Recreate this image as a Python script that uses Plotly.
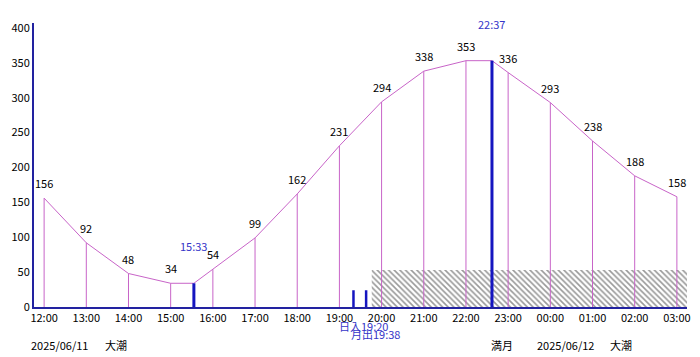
import plotly.graph_objects as go

# ---- data ----
hour_labels = ["12:00", "13:00", "14:00", "15:00", "16:00", "17:00", "18:00", "19:00",
               "20:00", "21:00", "22:00", "23:00", "00:00", "01:00", "02:00", "03:00"]
hour_pos = list(range(16))  # hours after 2025/06/11 12:00
tide_values = [156, 92, 48, 34, 54, 99, 162, 231, 294, 338, 353, 336, 293, 238, 188, 158]

low_time_label = "15:33"
low_time = 15 + 33 / 60 - 12
low_value = 34
high_time_label = "22:37"
high_time = 22 + 37 / 60 - 12
high_value = 353

sunset_label = "日入19:20"
sunset_time = 19 + 20 / 60 - 12
moonrise_label = "月出19:38"
moonrise_time = 19 + 38 / 60 - 12
event_bar_height = 24

night_start = 19 + 46 / 60 - 12
night_end = 15.24
night_height = 53

y_ticks = [0, 50, 100, 150, 200, 250, 300, 350, 400]

# ---- style ----
MAG = "#c864c8"
BLUE = "#1515c0"
AXBLUE = "#2222a0"
TXTBLUE = "#3535c8"
FONT = "Noto Sans CJK JP"
FS = 11

# curve including low/high points
pts = sorted(list(zip(hour_pos, tide_values)) + [(low_time, low_value), (high_time, high_value)])
cx = [p[0] for p in pts]
cy = [p[1] for p in pts]

fig = go.Figure()

# night hatch
fig.add_trace(go.Scatter(
    x=[night_start, night_end, night_end, night_start, night_start],
    y=[0, 0, night_height, night_height, 0],
    mode="lines", line=dict(width=0), fill="toself", fillcolor="rgba(0,0,0,0)",
    fillpattern=dict(shape="\\", fgcolor="#333333", bgcolor="white", size=4, solidity=0.4),
    hoverinfo="skip", showlegend=False))

# vertical hourly lines
vx, vy = [], []
for x, v in zip(hour_pos, tide_values):
    vx += [x, x, None]
    vy += [0, v, None]
fig.add_trace(go.Scatter(x=vx, y=vy, mode="lines", line=dict(color=MAG, width=1),
                         hoverinfo="skip", showlegend=False))

# curve
fig.add_trace(go.Scatter(x=cx, y=cy, mode="lines", line=dict(color=MAG, width=1),
                         showlegend=False))

# low/high thick bars
for t, v in [(low_time, low_value), (high_time, high_value)]:
    fig.add_trace(go.Scatter(x=[t, t], y=[0, v], mode="lines", line=dict(color=BLUE, width=3),
                             showlegend=False, hoverinfo="skip"))
# sunset / moonrise bars
for t in [sunset_time, moonrise_time]:
    fig.add_trace(go.Scatter(x=[t, t], y=[0, event_bar_height], mode="lines",
                             line=dict(color=BLUE, width=2.5), showlegend=False, hoverinfo="skip"))

ann = []
# value labels
for x, v in zip(hour_pos, tide_values):
    ann.append(dict(x=x, y=v, xref="x", yref="y", text=str(v), showarrow=False,
                    yshift=15, font=dict(family=FONT, size=FS, color="black")))
for t, v, lab in [(low_time, low_value, low_time_label), (high_time, high_value, high_time_label)]:
    ann.append(dict(x=t, y=v, xref="x", yref="y", text=lab, showarrow=False,
                    yshift=37, font=dict(family=FONT, size=FS, color=TXTBLUE)))
ann.append(dict(x=sunset_time, y=0, xref="x", yref="y", text=sunset_label, showarrow=False,
                xshift=10, yshift=-19, font=dict(family=FONT, size=FS, color=TXTBLUE)))
ann.append(dict(x=moonrise_time, y=0, xref="x", yref="y", text=moonrise_label, showarrow=False,
                xshift=9, yshift=-27, font=dict(family=FONT, size=FS, color=TXTBLUE)))

bottom = [("2025/06/11", 0.36), ("大潮", 1.71), ("満月", 10.85), ("2025/06/12", 12.36), ("大潮", 13.67)]
for txt, xp in bottom:
    ann.append(dict(x=xp, y=0, xref="x", yref="y", text=txt, showarrow=False,
                    yshift=-38, font=dict(family=FONT, size=FS, color="black")))

# the page body adds an 8px margin, so the figure is 8px smaller on each axis
fig.update_layout(
    width=692, height=349,
    margin=dict(l=26, r=13, t=15, b=50, autoexpand=False),
    paper_bgcolor="white", plot_bgcolor="white",
    annotations=ann,
    xaxis=dict(range=[-0.24, 15.24], tickvals=hour_pos, ticktext=hour_labels, automargin=False,
               showgrid=False, zeroline=False, showline=True, linecolor=AXBLUE, linewidth=2,
               ticks="", tickfont=dict(family=FONT, size=FS, color="black")),
    yaxis=dict(range=[0, 407], tickvals=y_ticks, showgrid=False, zeroline=False, automargin=False,
               showline=True, linecolor=AXBLUE, linewidth=2, ticks="",
               tickfont=dict(family=FONT, size=FS, color="black")),
)

fig.write_html("out.html")
